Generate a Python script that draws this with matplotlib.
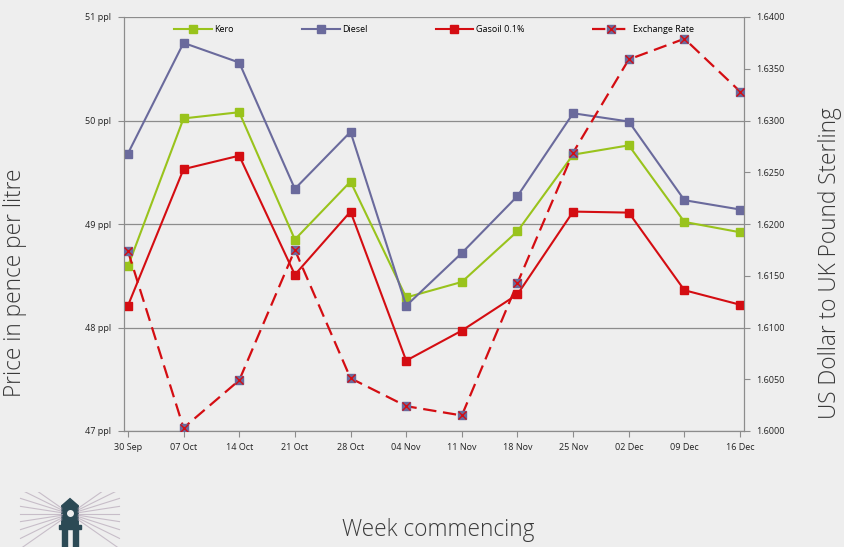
import matplotlib.pyplot as plt
import numpy as np

# weekly data
weeks = ['30 Sep', '07 Oct', '14 Oct', '21 Oct', '28 Oct', '04 Nov',
         '11 Nov', '18 Nov', '25 Nov', '02 Dec', '09 Dec', '16 Dec']
kero = [48.59, 50.02, 50.08, 48.85, 49.41, 48.29, 48.44, 48.93, 49.67, 49.76, 49.02, 48.92]
diesel = [49.68, 50.75, 50.56, 49.34, 49.89, 48.21, 48.72, 49.27, 50.07, 49.99, 49.23, 49.14]
gasoil = [48.21, 49.53, 49.66, 48.51, 49.12, 47.68, 47.97, 48.32, 49.12, 49.11, 48.36, 48.22]
fx_rate = [1.6174, 1.6003, 1.6049, 1.6175, 1.6051, 1.6024, 1.6015, 1.6143, 1.6269, 1.6359, 1.6379, 1.6328]

ppl_ticks = [47, 48, 49, 50, 51]
fx_ticks = [1.6000, 1.6050, 1.6100, 1.6150, 1.6200, 1.6250, 1.6300, 1.6350, 1.6400]

c_kero = '#99c31c'
c_diesel = '#6a6a9c'
c_gasoil = '#d40d12'
bg = '#eeeeee'
grey = '#8c8c8c'

plt.rcParams['font.family'] = ['Open Sans', 'DejaVu Sans']

fig = plt.figure(figsize=(8.45, 5.47), dpi=100, facecolor=bg)
ax = fig.add_axes([124 / 845, 1 - 431 / 547, 620 / 845, 414 / 547])
ax.set_facecolor(bg)
x = np.arange(len(weeks))

l1, = ax.plot(x, kero, color=c_kero, lw=1.5, marker='s', ms=6.3, label='Kero', zorder=3)
l2, = ax.plot(x, diesel, color=c_diesel, lw=1.5, marker='s', ms=6.3, label='Diesel', zorder=3)
l3, = ax.plot(x, gasoil, color=c_gasoil, lw=1.5, marker='s', ms=6.3, label='Gasoil 0.1%', zorder=3)

ax.set_xlim(-0.07, 11.07)
ax.set_ylim(47, 51)
ax.set_yticks(ppl_ticks)
ax.set_yticklabels(['%d ppl' % v for v in ppl_ticks])
ax.set_xticks(x)
ax.set_xticklabels(weeks)
ax.grid(axis='y', color=grey, lw=0.9)
ax.set_axisbelow(True)
ax.tick_params(labelsize=6.5, color=grey, length=4, pad=5, labelcolor='#222222')

ax2 = ax.twinx()
l4, = ax2.plot(x, fx_rate, color=c_gasoil, lw=1.6, dashes=(6, 3), marker='s', ms=6.3,
               mfc=c_diesel, mec=c_diesel, zorder=3)
l5, = ax2.plot(x, fx_rate, ls='none', marker='x', ms=5.5, mew=1.0, color=c_gasoil, zorder=4)
ax2.set_ylim(1.6, 1.64)
ax2.set_yticks(fx_ticks)
ax2.set_yticklabels(['%.4f' % v for v in fx_ticks])
ax2.tick_params(labelsize=6.5, color=grey, length=4, pad=5, labelcolor='#222222')

for a in (ax, ax2):
    for s in a.spines.values():
        s.set_color(grey)
    a.spines['top'].set_visible(False)

ax.legend([l1, l2, l3, (l4, l5)], ['Kero', 'Diesel', 'Gasoil 0.1%', 'Exchange Rate'],
          ncol=4, loc='upper center', bbox_to_anchor=(0.5, 1.0), frameon=False,
          fontsize=6.5, handlelength=4.2, columnspacing=7.5, handletextpad=0.3)

title_kw = dict(ha='center', va='center', fontsize=16.3, fontweight='light', color='#3a3a3a')
fig.text(15 / 845, 1 - 283 / 547, 'Price in pence per litre', rotation=90, **title_kw)
fig.text(830 / 845, 1 - 263 / 547, 'US Dollar to UK Pound Sterling', rotation=90, **title_kw)
fig.text(438 / 845, 1 - 530 / 547, 'Week commencing', **title_kw)

# small lighthouse logo
lg = fig.add_axes([15 / 845, 0, 110 / 845, 55 / 547])
lg.set_xlim(-1, 1)
lg.set_ylim(0, 1)
lg.axis('off')
for ang in np.linspace(-35, 35, 9):
    t = np.radians(ang)
    lg.plot([0.15, 0.9], [0.6 + 0.15 * np.tan(t), 0.6 + 0.9 * np.tan(t)], color='#b7a9b9', lw=0.8, alpha=0.7)
    lg.plot([-0.15, -0.9], [0.6 + 0.15 * np.tan(t), 0.6 + 0.9 * np.tan(t)], color='#b7a9b9', lw=0.8, alpha=0.7)
lg.fill([-0.15, -0.15, 0, 0.15, 0.15], [0.4, 0.75, 0.88, 0.75, 0.4], color='#2c4a55')
lg.plot([0], [0.62], 'o', color='#eeeeee', ms=4)
lg.fill([-0.2, 0.2, 0.2, -0.2], [0.32, 0.32, 0.4, 0.4], color='#2c4a55')
lg.fill([-0.14, -0.05, -0.05, -0.14], [0, 0, 0.32, 0.32], color='#2c4a55')
lg.fill([0.05, 0.14, 0.14, 0.05], [0, 0, 0.32, 0.32], color='#2c4a55')

fig.savefig('out.png', dpi=100, facecolor=bg)
